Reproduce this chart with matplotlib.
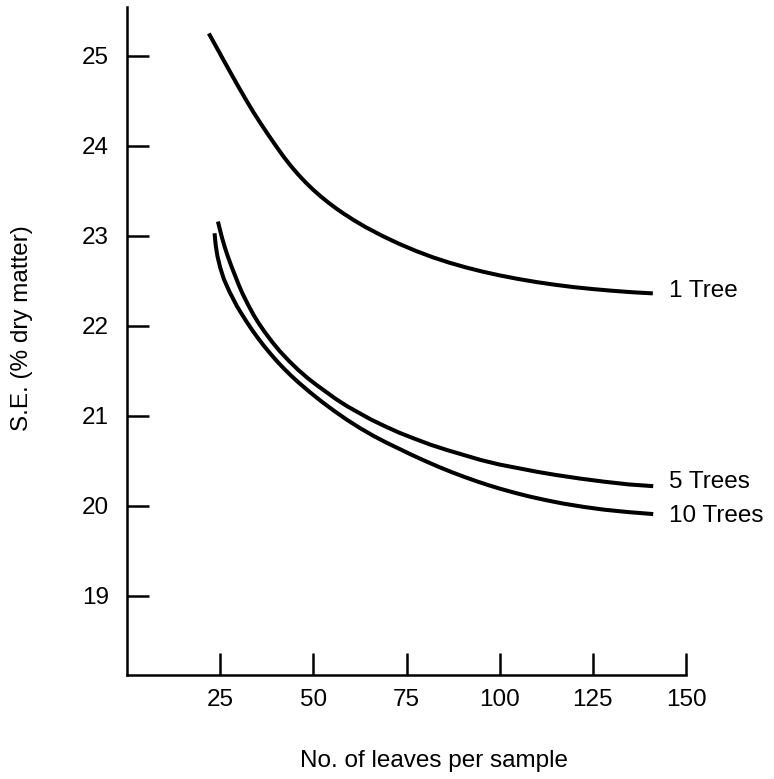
import matplotlib
matplotlib.use("Agg")
import matplotlib.pyplot as plt

plt.rcParams['font.family'] = ['Liberation Sans', 'DejaVu Sans']

# Data
x_1tree = [21.95, 24.0, 26.0, 28.0, 30.0, 32.0, 34.0, 36.0, 38.0, 40.0, 42.0, 44.0, 46.0, 48.0, 50.0, 52.0,
           54.0, 56.0, 58.0, 61.0, 64.0, 68.5, 73.0, 77.5, 82.0, 86.5, 91.0, 95.5, 100.0, 105.0, 110.0,
           115.0, 120.0, 125.0, 130.0, 135.5, 141.1]
y_1tree = [25.25, 25.098, 24.947, 24.798, 24.651, 24.508, 24.37, 24.242, 24.118, 23.998, 23.882, 23.776,
           23.68, 23.592, 23.512, 23.439, 23.372, 23.31, 23.252, 23.172, 23.099, 23.001, 22.913, 22.834,
           22.764, 22.703, 22.65, 22.603, 22.562, 22.522, 22.487, 22.457, 22.431, 22.41, 22.392, 22.375,
           22.362]

x_5trees = [24.4, 25.0, 25.5, 26.2, 27.0, 28.0, 29.0, 30.0, 31.0, 32.5, 34.0, 35.5, 37.0, 39.0, 41.0, 43.5,
            46.0, 48.5, 51.0, 53.5, 56.0, 59.0, 62.0, 65.5, 69.0, 73.0, 77.0, 81.5, 86.0, 90.5, 95.0, 100.0,
            105.0, 110.0, 115.0, 121.5, 128.0, 134.5, 141.2]
y_5trees = [23.16, 23.06, 22.98, 22.88, 22.78, 22.665, 22.56, 22.455, 22.36, 22.235, 22.12, 22.02, 21.93,
            21.82, 21.72, 21.61, 21.51, 21.42, 21.34, 21.265, 21.19, 21.11, 21.04, 20.96, 20.89, 20.815,
            20.75, 20.68, 20.62, 20.565, 20.51, 20.46, 20.42, 20.38, 20.345, 20.305, 20.27, 20.24, 20.22]

x_10trees = [23.5, 23.65, 23.8, 24.05, 24.3, 24.65, 25.0, 25.5, 26.0, 26.75, 27.5, 28.5, 29.5, 30.75, 32.0,
             33.5, 35.0, 36.75, 38.5, 40.25, 42.0, 44.0, 46.0, 49.0, 52.0, 55.5, 59.0, 62.5, 66.0, 69.5,
             73.0, 76.5, 80.0, 83.5, 87.0, 90.5, 94.0, 97.0, 100.0, 104.0, 108.0, 112.5, 117.0, 122.5,
             128.0, 134.5, 141.2]
y_10trees = [23.03, 22.96, 22.90, 22.83, 22.77, 22.71, 22.65, 22.585, 22.52, 22.45, 22.38, 22.30, 22.22,
             22.135, 22.053, 21.960, 21.873, 21.778, 21.691, 21.608, 21.531, 21.449, 21.373, 21.267, 21.167,
             21.059, 20.958, 20.866, 20.782, 20.706, 20.636, 20.566, 20.500, 20.437, 20.378, 20.323, 20.272,
             20.231, 20.193, 20.147, 20.105, 20.064, 20.027, 19.990, 19.959, 19.932, 19.910]

series_labels = ["1 Tree", "5 Trees", "10 Trees"]
label_y = [22.39, 20.27, 19.89]

x_ticks = [25, 50, 75, 100, 125, 150]
y_ticks = [19, 20, 21, 22, 23, 24, 25]

W, H = 774, 779
fig = plt.figure(figsize=(W / 100, H / 100), dpi=100)

left_px, right_px, top_px, bottom_px = 127, 686, 7, 675
ax = fig.add_axes([left_px / W, (H - bottom_px) / H,
                   (right_px - left_px) / W, (bottom_px - top_px) / H])

fs = 17.5
lw = 2.9
for xs, ys in [(x_1tree, y_1tree), (x_5trees, y_5trees), (x_10trees, y_10trees)]:
    ax.plot(xs, ys, color='black', lw=lw, solid_capstyle='butt', solid_joinstyle='round')

for lab, ly in zip(series_labels, label_y):
    ax.text(145.4, ly, lab, fontsize=fs, ha='left', va='center', color='black', clip_on=False)

ax.set_xlim(0, 150)
ax.set_ylim(18.122, 25.544)
ax.set_xticks(x_ticks)
ax.set_yticks(y_ticks)
ax.set_xticklabels([str(v) for v in x_ticks])
ax.set_yticklabels([str(v) for v in y_ticks])

for s in ['top', 'right']:
    ax.spines[s].set_visible(False)
for s in ['left', 'bottom']:
    ax.spines[s].set_linewidth(1.8)
    ax.spines[s].set_color('black')

ax.tick_params(axis='both', direction='in', length=16, width=1.8, labelsize=fs, colors='black')
ax.tick_params(axis='x', pad=10)
ax.tick_params(axis='y', pad=13)
ax.patch.set_alpha(0)

fig.text(434 / W, 1 - 761 / H, "No. of leaves per sample", fontsize=fs, ha='center', va='center')
fig.text(22 / W, 1 - 328 / H, "S.E. (% dry matter)", fontsize=fs, ha='center', va='center', rotation=90)

fig.savefig("out.png", dpi=100)
